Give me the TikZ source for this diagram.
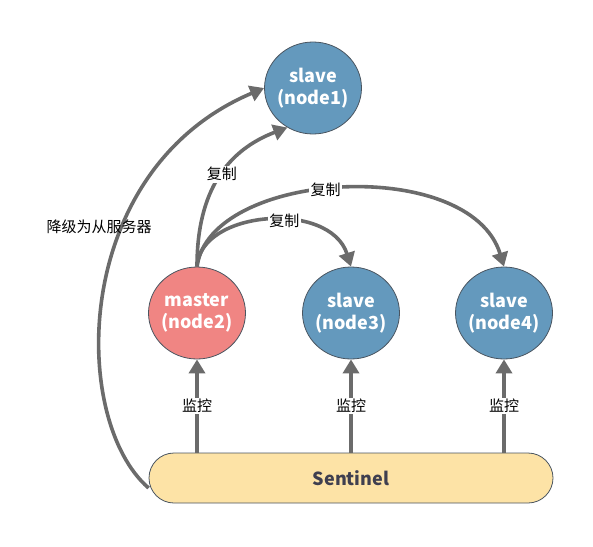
\documentclass[tikz,border=0pt]{standalone}
\usepackage{fontspec}
\setmainfont{Noto Sans CJK SC}
\usetikzlibrary{positioning,arrows.meta,shapes.geometric}
\definecolor{slaveblue}{HTML}{6499BD}
\definecolor{masterred}{HTML}{F08583}
\definecolor{sentyellow}{HTML}{FDE3A6}
\definecolor{linkgrey}{HTML}{6B6B6B}
\definecolor{edgegrey}{HTML}{4A5560}
\definecolor{darktext}{HTML}{3F3F4F}
\tikzset{
  server/.style={ellipse,draw=edgegrey,line width=0.8pt,minimum width=97pt,minimum height=92pt,inner sep=-3pt,
    text=white,align=center,font=\fontsize{18}{22}\selectfont\bfseries},
  link/.style={linkgrey,line width=3.6pt,-{Triangle[length=14pt,width=16pt]}},
  tag/.style={fill=white,inner sep=1.5pt,text=black,font=\fontsize{15}{17}\selectfont}
}
\begin{document}
\begin{tikzpicture}[x=1pt,y=-1pt]
\useasboundingbox (0,0) rectangle (593,546);
\node[server,fill=slaveblue] (node1) at (313,88) {slave\\(node1)};
\node[server,fill=masterred] (master) at (197,313) {master\\(node2)};
\node[server,fill=slaveblue] (node3) at (351,313) {slave\\(node3)};
\node[server,fill=slaveblue] (node4) at (504,313) {slave\\(node4)};
\node[draw=edgegrey,line width=0.8pt,fill=sentyellow,rounded corners=25pt,minimum width=404pt,minimum height=50pt,
  text=darktext,font=\fontsize{18}{22}\selectfont\bfseries] (sentinel) at (351,478) {Sentinel};
% monitoring
\foreach \n in {master,node3,node4}
  {\draw[link] (\n.south |- sentinel.north) -- node[tag] {监控} (\n.south);}
% replication
\draw[link] (master.north) .. controls (197,190) and (228,150) .. node[tag,pos=0.52] {复制} (node1.237);
\draw[link] (master.north) .. controls (200,210) and (330,200) .. node[tag,pos=0.58] {复制} (node3.north);
\draw[link] (master.north) .. controls (210,170) and (470,155) .. node[tag,pos=0.46] {复制} (node4.north);
% demotion
\draw[link] ([yshift=-10pt]sentinel.west) .. controls (70,420) and (70,170) .. (node1.west);
\node[tag,fill=none] (demote) at (99,227) {降级为从服务器};
\end{tikzpicture}
\end{document}
